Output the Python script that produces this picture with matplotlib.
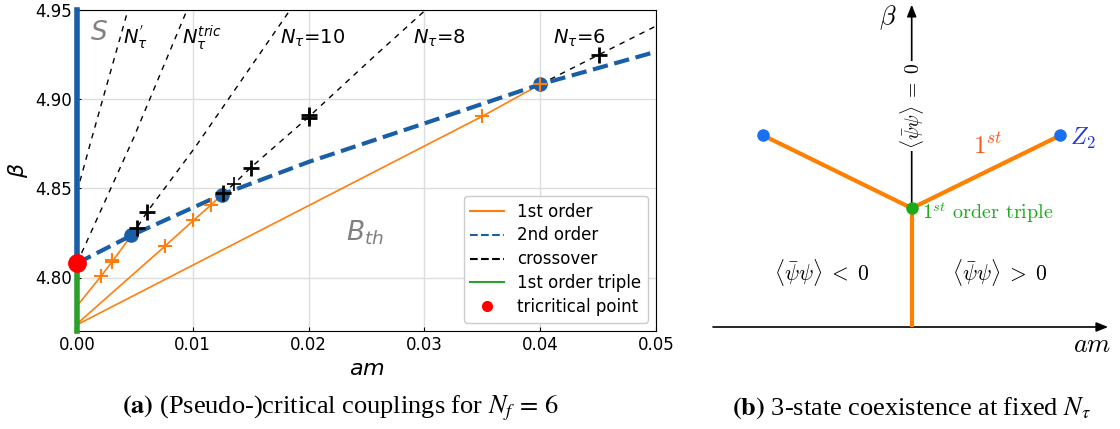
import matplotlib
matplotlib.use("Agg")
import matplotlib.pyplot as plt
from matplotlib.lines import Line2D

# ---------------- panel (a) data ----------------
am_ticks = [0.00, 0.01, 0.02, 0.03, 0.04, 0.05]
beta_ticks = [4.80, 4.85, 4.90, 4.95]

# first-order lines (N_tau = 10, 8, 6)
fo10_am = [0.0, 0.00207, 0.00305, 0.0047]
fo10_beta = [4.784, 4.8007, 4.809, 4.8236]
fo8_am = [0.0, 0.0076, 0.01005, 0.0116, 0.0125]
fo8_beta = [4.774, 4.8176, 4.832, 4.8408, 4.8465]
fo6_am = [0.0, 0.035, 0.040]
fo6_beta = [4.7735, 4.8904, 4.9083]

fo_marks_am = [0.00207, 0.0030, 0.0030, 0.0076, 0.01005, 0.0116, 0.035, 0.040]
fo_marks_beta = [4.8007, 4.8088, 4.8100, 4.8176, 4.832, 4.8408, 4.8904, 4.9083]

# second-order line and critical endpoints
so_am = [0.0, 0.0047, 0.0125, 0.02, 0.03, 0.04, 0.05]
so_beta = [4.808, 4.8236, 4.8465, 4.8648, 4.8864, 4.9083, 4.9266]
ep_am = [0.0047, 0.0125, 0.040]
ep_beta = [4.8236, 4.8465, 4.9083]

# crossover lines
cr_prime_am = [0.0, 0.00127, 0.0044]
cr_prime_beta = [4.848, 4.878, 4.95]
cr_tric_am = [0.0, 0.00487, 0.0095]
cr_tric_beta = [4.808, 4.878, 4.95]
cr10_am = [0.0047, 0.00516, 0.00608, 0.0102, 0.0184]
cr10_beta = [4.8236, 4.8277, 4.837, 4.873, 4.95]
cr8_am = [0.0125, 0.01357, 0.0150, 0.0200, 0.0256, 0.0301]
cr8_beta = [4.8465, 4.8526, 4.8616, 4.890, 4.9236, 4.95]
cr6_am = [0.040, 0.045, 0.050]
cr6_beta = [4.9083, 4.9247, 4.941]

cr_marks_am = [0.00516, 0.00608, 0.0126, 0.0150, 0.0200, 0.0200, 0.04506]
cr_marks_beta = [4.8277, 4.837, 4.8474, 4.8616, 4.8895, 4.8912, 4.9247]
cr_small_am = [0.01357]
cr_small_beta = [4.8526]

tric_am = [0.0]
tric_beta = [4.808]
s_line_beta = [4.808, 4.95]
triple_line_beta = [4.77, 4.808]

nt_labels = [r"$N_\tau^{'}$", r"$N_\tau^{tric}$", r"$N_\tau$=10", r"$N_\tau$=8", r"$N_\tau$=6"]
nt_label_am = [0.00398, 0.00907, 0.01755, 0.02904, 0.04114]
nt_label_beta = 4.931

# ---------------- panel (b) schematic data ----------------
b_triple = (0.0, 0.80)
b_end_am = [-1.0, 1.0]
b_end_beta = [1.29, 1.29]
b_axis_am = (-1.338, 1.323)
b_axis_beta_top = 2.17

BLUE = "#1a5ea8"
ORANGE = "#ff7f0e"
GREEN = "#2ca02c"

fig = plt.figure(figsize=(11.2, 4.29), dpi=100)
ax = fig.add_axes([77/1120, 1-331/429, (656-77)/1120, (331-10)/429])

ax.set_xlim(0, 0.05)
ax.set_ylim(4.77, 4.95)
ax.set_xticks(am_ticks)
ax.set_xticklabels([f"{v:.2f}" for v in am_ticks])
ax.set_yticks(beta_ticks)
ax.set_yticklabels([f"{v:.2f}" for v in beta_ticks])
ax.tick_params(direction="in", labelsize=12, length=3)
ax.grid(True, color="#dddddd", lw=1)
ax.set_axisbelow(True)
ax.set_xlabel(r"$am$", fontsize=16)
ax.set_ylabel(r"$\beta$", fontsize=16)

crk = dict(color="black", lw=1.0, dashes=(4, 4), zorder=2)
for xs, ys in [(cr_prime_am, cr_prime_beta), (cr_tric_am, cr_tric_beta),
               (cr10_am, cr10_beta), (cr8_am, cr8_beta), (cr6_am, cr6_beta)]:
    ax.plot(xs, ys, **crk)

for xs, ys in [(fo10_am, fo10_beta), (fo8_am, fo8_beta), (fo6_am, fo6_beta)]:
    ax.plot(xs, ys, color=ORANGE, lw=1.2, zorder=3)
ax.plot(fo_marks_am, fo_marks_beta, ls="none", marker="+", ms=10, mew=1.5,
        color=ORANGE, zorder=6)

ax.plot(so_am, so_beta, color=BLUE, lw=3.0, ls="--", zorder=4)
ax.plot(ep_am, ep_beta, ls="none", marker="o", ms=9.5, color=BLUE, zorder=5)

ax.plot(cr_marks_am, cr_marks_beta, ls="none", marker="+", ms=11, mew=2,
        color="black", zorder=7)
ax.plot(cr_small_am, cr_small_beta, ls="none", marker="+", ms=10, mew=1.2,
        color="black", zorder=7)

ax.plot([0, 0], s_line_beta, color=BLUE, lw=4, clip_on=False, zorder=8)
ax.plot([0, 0], triple_line_beta, color=GREEN, lw=4, clip_on=False, zorder=8)
ax.plot(tric_am, tric_beta, ls="none", marker="o", ms=12.5, color="red",
        clip_on=False, zorder=9)

for lab, x in zip(nt_labels, nt_label_am):
    ax.text(x, nt_label_beta, lab, fontsize=14, ha="left", va="baseline")
ax.text(0.00112, 4.933, r"$S$", fontsize=19, color="gray", ha="left", va="baseline")
ax.text(0.0232, 4.8208, r"$B_{th}$", fontsize=19, color="gray", ha="left", va="baseline")

handles = [Line2D([], [], color=ORANGE, lw=1.5),
           Line2D([], [], color=BLUE, lw=1.5, ls="--"),
           Line2D([], [], color="black", lw=1.5, ls="--"),
           Line2D([], [], color=GREEN, lw=1.5),
           Line2D([], [], color="red", marker="o", ls="none", ms=7)]
labels = ["1st order", "2nd order", "crossover", "1st order triple", "tricritical point"]
ax.legend(handles, labels, loc="lower right", fontsize=12, framealpha=1.0,
          labelspacing=0.35)

fig.text(340/1120, 1-408/429, r"$\mathbf{(a)}$ (Pseudo-)critical couplings for $N_f\,=\,6$",
         family="Liberation Serif", math_fontfamily="stix", fontsize=19,
         ha="center", va="center")

# ---------------- panel (b) ----------------
pxu = 148.5
bx0 = 911.7 - 1.4 * pxu
axb = fig.add_axes([bx0/1120, 1-(327+0.55*pxu)/429, 2.8*pxu/1120, 2.75*pxu/429])
axb.set_xlim(-1.4, 1.4)
axb.set_ylim(-0.55, 2.2)
axb.axis("off")

arrow = dict(arrowstyle="-|>,head_length=0.7,head_width=0.28", lw=1.2,
             color="black", shrinkA=0, shrinkB=0, mutation_scale=10)
axb.annotate("", xy=(b_axis_am[1], 0), xytext=(b_axis_am[0], 0), arrowprops=arrow)
axb.annotate("", xy=(0, b_axis_beta_top), xytext=(0, b_triple[1]), arrowprops=arrow)

OR2 = "#ff8000"
axb.plot([b_triple[0], b_triple[0]], [0, b_triple[1]], color=OR2, lw=3, solid_capstyle="butt", zorder=3)
axb.plot([b_end_am[0], b_triple[0], b_end_am[1]], [b_end_beta[0], b_triple[1], b_end_beta[1]],
         color=OR2, lw=3, zorder=3)
axb.plot(b_end_am, b_end_beta, ls="none", marker="o", ms=8, color="#1a6ff0", zorder=4)
axb.plot([b_triple[0]], [b_triple[1]], ls="none", marker="o", ms=8, color="#1aaa1a", zorder=5)

cm = dict(math_fontfamily="cm")
axb.text(-0.16, 2.08, r"$\beta$", fontsize=19, ha="center", va="center", **cm)
axb.text(1.216, -0.12, r"$am$", fontsize=19, ha="center", va="center", **cm)
axb.text(0.0, 1.49, r"$\langle\bar{\psi}\psi\rangle\;=\;0$", rotation=90, fontsize=14,
         ha="center", va="center", bbox=dict(fc="white", ec="none", pad=1.5), zorder=6, **cm)
axb.text(0.51, 1.22, r"$1^{st}$", fontsize=18, color="#f4581e", ha="center", va="center", **cm)
axb.text(1.15, 1.27, r"$Z_2$", fontsize=17, color="#2030e8", ha="center", va="center", **cm)
axb.text(0.07, 0.77, r"$1^{st}$ order triple", fontsize=14.5, color="#1aaa1a",
         family="cmr10", ha="left", va="center", **cm)
axb.text(-0.61, 0.37, r"$\langle\bar{\psi}\psi\rangle\;<\;0$", fontsize=15.5,
         ha="center", va="center", **cm)
axb.text(0.59, 0.37, r"$\langle\bar{\psi}\psi\rangle\;>\;0$", fontsize=15.5,
         ha="center", va="center", **cm)

fig.text(912/1120, 1-408/429, r"$\mathbf{(b)}$ 3-state coexistence at fixed $\boldsymbol{N_\tau}$",
         family="Liberation Serif", math_fontfamily="stix", fontsize=19,
         ha="center", va="center")

fig.savefig("out.png", dpi=100)
